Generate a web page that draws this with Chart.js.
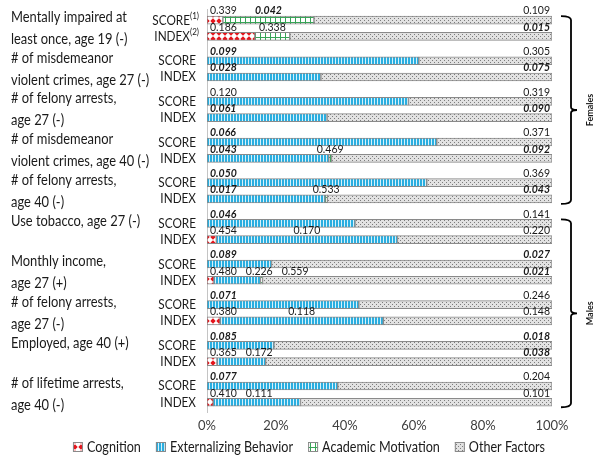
<!DOCTYPE html>
<html><head><meta charset="utf-8">
<script src="https://cdn.jsdelivr.net/npm/chart.js@4"></script>
<style>html,body{margin:0;padding:0;background:#fff}</style>
</head><body>
<canvas id="c" width="602" height="462"></canvas>
<script>
// ---------- data ----------
const outcomes = [
  ["Mentally impaired at", "least once, age 19 (-)"],
  ["# of misdemeanor", "violent crimes, age 27 (-)"],
  ["# of felony arrests,", "age 27 (-)"],
  ["# of misdemeanor", "violent crimes, age 40 (-)"],
  ["# of felony arrests,", "age 40 (-)"],
  ["Use tobacco, age 27 (-)"],
  ["Monthly income,", "age 27 (+)"],
  ["# of felony arrests,", "age 27 (-)"],
  ["Employed, age 40 (+)"],
  ["# of lifetime arrests,", "age 40 (-)"]
];
const measures = ["SCORE", "INDEX"];
const footnoteMarks = ["(1)", "(2)"];           // shown on the first outcome only
const groups = [
  { name: "Females", first: 0, last: 4 },
  { name: "Males",   first: 5, last: 9 }
];
const seriesNames = ["Cognition", "Externalizing Behavior", "Academic Motivation", "Other Factors"];
const xTicks = [0, 20, 40, 60, 80, 100];

// share of each factor (%) per bar, order: outcome1 SCORE, outcome1 INDEX, outcome2 SCORE, ...
const cognition     = [4.6, 13.9, 0, 0,    0, 0,    0, 0,    0, 0,    0, 2.7,   0, 2.0,   0, 3.8,   0, 2.9,   0, 1.8];
const externalizing = [0, 0,   61.4, 33.0, 58.4, 34.8, 66.6, 35.3, 63.7, 34.2, 42.9, 52.5, 18.7, 13.5, 44.0, 47.3, 19.4, 14.1, 37.9, 25.3];
const academic      = [26.4, 10.1, 0, 0,   0, 0,    0, 0.8,  0, 0.7,  0, 0,     0, 0.6,   0, 0,     0, 0,     0, 0];
const otherFactors  = [69.0, 76.0, 38.6, 67.0, 41.6, 65.2, 33.4, 63.9, 36.3, 65.1, 57.1, 44.8, 81.3, 83.9, 56.0, 48.9, 80.6, 83.0, 62.1, 72.9];

// p-values printed above the bars (null = not shown)
const pCognition     = [0.339, 0.186, null, null, null, null, null, null, null, null, null, 0.454, null, 0.480, null, 0.380, null, 0.365, null, 0.410];
const pExternalizing = [null, null, 0.099, 0.028, 0.120, 0.061, 0.066, 0.043, 0.050, 0.017, 0.046, 0.170, 0.089, 0.226, 0.071, 0.118, 0.085, 0.172, 0.077, 0.111];
const pAcademic      = [0.042, 0.338, null, null, null, null, null, 0.469, null, 0.533, null, null, null, 0.559, null, null, null, null, null, null];
const pOther         = [0.109, 0.015, 0.305, 0.075, 0.319, 0.090, 0.371, 0.092, 0.369, 0.043, 0.141, 0.220, 0.027, 0.021, 0.246, 0.148, 0.018, 0.038, 0.204, 0.101];

// ---------- styling ----------
const FONT = 'Lato, "Open Sans", sans-serif';
const TEXT = '#1a1a1a';
function barPos(i) { return Math.floor(i / 2) * 2.5 + (i % 2); }

function makePattern(w, h, draw) {
  const c = document.createElement('canvas'); c.width = w; c.height = h;
  const g = c.getContext('2d'); draw(g, w, h);
  return g.createPattern(c, 'repeat');
}
const patCog = makePattern(6, 6, g => {
  g.fillStyle = '#ffffff'; g.fillRect(0, 0, 6, 6);
  g.fillStyle = '#e4141b'; g.beginPath();
  g.moveTo(3, 0.3); g.lineTo(5.7, 3); g.lineTo(3, 5.7); g.lineTo(0.3, 3); g.closePath(); g.fill();
});
const patExt = makePattern(3, 4, g => {
  g.fillStyle = '#d6f1fb'; g.fillRect(0, 0, 3, 4);
  g.fillStyle = '#2aaee0'; g.fillRect(0, 0, 2, 4);
});
const patAca = makePattern(5, 5, g => {
  g.fillStyle = '#ffffff'; g.fillRect(0, 0, 5, 5);
  g.fillStyle = '#38a457'; g.fillRect(0, 0, 1, 5); g.fillRect(0, 2, 5, 1);
});
const patOth = makePattern(4, 4, g => {
  g.fillStyle = '#e2e2e2'; g.fillRect(0, 0, 4, 4);
  g.fillStyle = '#7c7c7c'; g.fillRect(0, 0, 1, 1); g.fillRect(2, 2, 1, 1);
});
const patterns = [patCog, patExt, patAca, patOth];
const seriesValues = [cognition, externalizing, academic, otherFactors];
const pValues = [pCognition, pExternalizing, pAcademic, pOther];

const datasets = seriesNames.map((name, s) => ({
  label: name,
  data: seriesValues[s].map((v, i) => ({ x: v, y: barPos(i) })).filter(d => d.x > 0),
  backgroundColor: patterns[s],
  borderColor: '#8a8a8a',
  borderWidth: 1,
  borderSkipped: false,
  barThickness: 8
}));

// draw text squeezed horizontally (to mimic the narrow original face)
function squeezeText(ctx, txt, x, y, align, sx) {
  const w = ctx.measureText(txt).width * sx;
  let left = x;
  if (align === 'right') left = x - w; else if (align === 'center') left = x - w / 2;
  ctx.save();
  ctx.translate(left, y);
  ctx.scale(sx, 1);
  ctx.textAlign = 'left';
  ctx.fillText(txt, 0, 0);
  ctx.restore();
  return w;
}

// ---------- annotation plugin ----------
const annotations = {
  id: 'annotations',
  afterDraw(chart) {
    const ctx = chart.ctx, xs = chart.scales.x, ys = chart.scales.y;
    ctx.save();
    ctx.fillStyle = TEXT;
    ctx.textBaseline = 'middle';

    // p-value labels
    const nBars = otherFactors.length;
    for (let i = 0; i < nBars; i++) {
      const ly = ys.getPixelForValue(barPos(i)) - 9;
      let cum = 0, prevRight = -Infinity, first = true;
      for (let s = 0; s < 3; s++) {
        const v = seriesValues[s][i], p = pValues[s][i];
        const x0 = xs.getPixelForValue(cum), x1 = xs.getPixelForValue(cum + v);
        cum += v;
        if (p === null) continue;
        const txt = p.toFixed(3);
        ctx.font = (p < 0.1 ? 'italic bold ' : '') + '10.5px ' + FONT;
        const w = ctx.measureText(txt).width;
        const left = first ? x0 + 3 : Math.max((x0 + x1) / 2 - w / 2, prevRight + 9);
        ctx.textAlign = 'left';
        ctx.fillText(txt, left, ly);
        prevRight = left + w; first = false;
      }
      const po = pOther[i];
      ctx.font = (po < 0.1 ? 'italic bold ' : '') + '10.5px ' + FONT;
      ctx.textAlign = 'right';
      ctx.fillText(po.toFixed(3), xs.getPixelForValue(100) - 2, ly);
    }

    // category labels
    outcomes.forEach((lines, k) => {
      const yS = ys.getPixelForValue(barPos(2 * k)), yI = ys.getPixelForValue(barPos(2 * k + 1));
      ctx.font = '15px ' + FONT;
      if (lines.length === 2) {
        const mid = (yS + yI) / 2;
        squeezeText(ctx, lines[0], 11, mid - 11, 'left', 0.86);
        squeezeText(ctx, lines[1], 11, mid + 11, 'left', 0.86);
      } else {
        squeezeText(ctx, lines[0], 11, yS - 2, 'left', 0.86);
      }
      [yS, yI].forEach((yy, j) => {
        if (k === 0) {
          ctx.font = '9px ' + FONT;
          const sw = squeezeText(ctx, footnoteMarks[j], 199, yy - 4, 'right', 0.9);
          ctx.font = '14px ' + FONT;
          squeezeText(ctx, measures[j], 199 - sw, yy, 'right', 0.84);
        } else {
          ctx.font = '14px ' + FONT;
          squeezeText(ctx, measures[j], 196, yy, 'right', 0.84);
        }
      });
    });

    // group braces
    ctx.strokeStyle = '#000'; ctx.lineWidth = 1.8;
    groups.forEach(g => {
      const top = ys.getPixelForValue(barPos(2 * g.first)) - 4;
      const bot = ys.getPixelForValue(barPos(2 * g.last + 1)) + 5;
      const mid = (top + bot) / 2;
      const xl = 561, xv = 571, xp = 577;
      ctx.beginPath();
      ctx.moveTo(xl, top);
      ctx.quadraticCurveTo(xv, top, xv, top + 4);
      ctx.lineTo(xv, mid - 3);
      ctx.quadraticCurveTo(xv, mid, xp, mid);
      ctx.quadraticCurveTo(xv, mid, xv, mid + 3);
      ctx.lineTo(xv, bot - 4);
      ctx.quadraticCurveTo(xv, bot, xl, bot);
      ctx.stroke();
      ctx.save();
      ctx.translate(590, mid);
      ctx.rotate(-Math.PI / 2);
      ctx.textAlign = 'center';
      ctx.font = 'bold 9px ' + FONT;
      ctx.fillText(g.name, 0, 0);
      ctx.restore();
    });

    // legend
    ctx.font = '15px ' + FONT;
    const sx = 0.84;
    const box = 10, gapBox = 4, gapItem = 15;
    const widths = seriesNames.map(n => box + gapBox + ctx.measureText(n).width * sx);
    const total = widths.reduce((a, b) => a + b, 0) + gapItem * (seriesNames.length - 1);
    let lx = 309 - total / 2;
    const legY = 447;
    seriesNames.forEach((n, s) => {
      ctx.fillStyle = patterns[s];
      ctx.fillRect(lx, legY - box / 2, box, box);
      ctx.strokeStyle = '#8a8a8a'; ctx.lineWidth = 1;
      ctx.strokeRect(lx + 0.5, legY - box / 2 + 0.5, box - 1, box - 1);
      ctx.fillStyle = TEXT;
      squeezeText(ctx, n, lx + box + gapBox, legY, 'left', sx);
      lx += widths[s] + gapItem;
    });
    ctx.restore();
  }
};

new Chart(document.getElementById('c'), {
  type: 'bar',
  data: { datasets },
  plugins: [annotations],
  options: {
    indexAxis: 'y',
    responsive: false,
    animation: false,
    devicePixelRatio: 1,
    layout: { padding: { left: 207, right: 50, top: 9, bottom: 26 } },
    plugins: { legend: { display: false }, tooltip: { enabled: false } },
    scales: {
      x: {
        type: 'linear', min: 0, max: 100, stacked: true,
        grid: { display: false, drawTicks: false },
        border: { display: false },
        afterBuildTicks: s => { s.ticks = xTicks.map(v => ({ value: v })); },
        ticks: { callback: v => v + '%', font: { family: FONT, size: 13 }, color: '#404040', padding: 6 },
        afterFit: s => { s.height = 24; }
      },
      y: {
        type: 'linear', reverse: true, min: -0.68, max: 24.1, stacked: true, offset: false,
        grid: { display: false, drawTicks: false, offset: false },
        border: { display: true, color: '#c4c4c4' },
        ticks: { display: false },
        afterFit: s => { s.width = 0; }
      }
    }
  }
});
</script>
</body></html>
